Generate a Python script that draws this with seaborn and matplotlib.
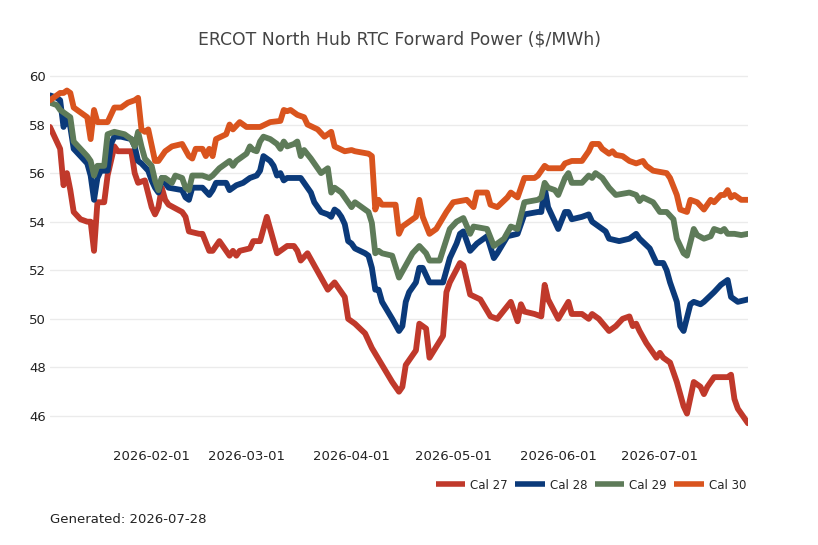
import pandas as pd
import numpy as np
import matplotlib
matplotlib.use("Agg")
import matplotlib.pyplot as plt
import matplotlib.dates as mdates
import seaborn as sns

# ---- data: days since 2026-01-01 and prices ($/MWh) ----
cal27_days = [1, 4, 5, 6, 7, 8, 10, 12, 13, 14, 15, 17, 18, 20, 21, 25, 26, 27, 29, 31, 32, 33, 34, 35, 36,
              40, 41, 42, 45, 46, 48, 49, 51, 52, 54, 55, 56, 57, 60, 61, 63, 65, 66, 68, 71, 73, 74, 75, 77,
              81, 83, 85, 88, 89, 91, 94, 96, 99, 102, 103, 104, 105, 106, 109, 110, 112, 113, 117, 118, 119,
              122, 123, 125, 128, 131, 133, 137, 139, 140, 141, 144, 146, 147, 148, 151, 154, 155, 158, 160,
              161, 163, 166, 168, 170, 172, 173, 174, 175, 177, 180, 181, 182, 184, 186, 188, 189, 191, 193,
              194, 195, 197, 200, 201, 202, 203, 204, 207]
cal27_vals = [57.9, 57.0, 55.5, 56.0, 55.3, 54.4, 54.1, 54.0, 54.0, 52.8, 54.8, 54.8, 55.9, 57.1, 56.9, 56.9,
              56.0, 55.6, 55.7, 54.6, 54.3, 54.6, 55.4, 54.9, 54.7, 54.4, 54.2, 53.6, 53.5, 53.5, 52.8, 52.8,
              53.2, 53.0, 52.6, 52.8, 52.6, 52.8, 52.9, 53.2, 53.2, 54.2, 53.7, 52.7, 53.0, 53.0, 52.8, 52.4,
              52.7, 51.7, 51.2, 51.5, 50.9, 50.0, 49.8, 49.4, 48.8, 48.1, 47.4, 47.2, 47.0, 47.2, 48.1, 48.7,
              49.8, 49.6, 48.4, 49.3, 51.1, 51.5, 52.3, 52.2, 51.0, 50.8, 50.1, 50.0, 50.7, 49.9, 50.6, 50.3,
              50.2, 50.1, 51.4, 50.8, 50.0, 50.7, 50.2, 50.2, 50.0, 50.2, 50.0, 49.5, 49.7, 50.0, 50.1, 49.7,
              49.8, 49.5, 49.0, 48.4, 48.6, 48.4, 48.2, 47.4, 46.4, 46.1, 47.4, 47.2, 46.9, 47.2, 47.6, 47.6,
              47.6, 47.7, 46.7, 46.3, 45.7]

cal28_days = [1, 3, 4, 5, 6, 7, 8, 10, 12, 13, 14, 15, 16, 18, 19, 20, 22, 25, 26, 27, 28, 30, 31, 32, 33,
              34, 35, 36, 40, 41, 42, 43, 46, 48, 49, 50, 53, 54, 56, 58, 60, 62, 63, 64, 66, 67, 68, 69, 70,
              71, 75, 76, 78, 79, 81, 83, 84, 85, 86, 87, 88, 89, 90, 91, 94, 95, 96, 97, 98, 99, 102, 104,
              105, 106, 107, 109, 110, 111, 113, 117, 119, 121, 122, 123, 125, 127, 130, 132, 133, 136, 139,
              141, 145, 146, 147, 148, 151, 153, 154, 155, 158, 160, 161, 165, 166, 169, 172, 174, 175, 178,
              179, 180, 182, 183, 184, 186, 187, 188, 190, 191, 193, 194, 197, 199, 201, 202, 204, 207]
cal28_vals = [59.2, 59.1, 59.0, 57.9, 58.3, 57.9, 57.0, 56.7, 56.4, 55.9, 54.9, 55.8, 56.1, 56.1, 57.2, 57.5,
              57.5, 57.4, 57.1, 56.5, 56.4, 56.1, 55.7, 55.4, 55.2, 55.8, 55.6, 55.4, 55.3, 55.0, 54.9, 55.4,
              55.4, 55.1, 55.3, 55.6, 55.6, 55.3, 55.5, 55.6, 55.8, 55.9, 56.1, 56.7, 56.5, 56.3, 55.9, 56.0,
              55.7, 55.8, 55.8, 55.6, 55.2, 54.8, 54.4, 54.3, 54.2, 54.5, 54.4, 54.2, 53.9, 53.2, 53.1, 52.9,
              52.7, 52.6, 52.1, 51.2, 51.2, 50.7, 50.0, 49.5, 49.7, 50.7, 51.1, 51.5, 52.1, 52.1, 51.5, 51.5,
              52.5, 53.1, 53.5, 53.6, 52.8, 53.1, 53.4, 52.5, 52.7, 53.4, 53.5, 54.3, 54.4, 54.4, 55.4, 54.6,
              53.7, 54.4, 54.4, 54.1, 54.2, 54.3, 54.0, 53.6, 53.3, 53.2, 53.3, 53.5, 53.3, 52.9, 52.6, 52.3,
              52.3, 52.0, 51.5, 50.7, 49.7, 49.5, 50.6, 50.7, 50.6, 50.7, 51.1, 51.4, 51.6, 50.9, 50.7, 50.8]

cal29_days = [1, 3, 4, 6, 7, 8, 10, 12, 13, 14, 15, 17, 18, 20, 23, 25, 26, 27, 28, 29, 31, 32, 33, 34, 35,
              37, 38, 40, 41, 42, 43, 46, 48, 49, 51, 53, 54, 55, 56, 58, 59, 60, 61, 62, 63, 64, 66, 68, 69,
              70, 71, 73, 74, 75, 76, 78, 81, 83, 84, 85, 87, 90, 91, 95, 96, 97, 98, 99, 102, 104, 106, 108,
              110, 112, 113, 116, 119, 121, 123, 125, 126, 130, 132, 135, 137, 139, 141, 145, 146, 147, 148,
              150, 151, 153, 154, 155, 158, 160, 161, 162, 164, 166, 168, 172, 174, 175, 176, 179, 181, 183,
              185, 186, 188, 189, 191, 192, 194, 196, 197, 199, 200, 201, 203, 205, 207]
cal29_vals = [58.9, 58.8, 58.6, 58.4, 58.3, 57.3, 57.0, 56.7, 56.5, 55.9, 56.3, 56.3, 57.6, 57.7, 57.6, 57.4,
              57.1, 57.7, 57.1, 56.6, 56.3, 55.7, 55.3, 55.8, 55.8, 55.6, 55.9, 55.8, 55.4, 55.3, 55.9, 55.9,
              55.8, 55.9, 56.2, 56.4, 56.5, 56.3, 56.5, 56.7, 56.8, 57.1, 56.95, 56.9, 57.3, 57.5, 57.4, 57.2,
              57.0, 57.3, 57.1, 57.2, 57.3, 56.7, 56.95, 56.6, 56.0, 56.2, 55.2, 55.4, 55.2, 54.6, 54.8, 54.4,
              53.95, 52.7, 52.8, 52.7, 52.6, 51.7, 52.2, 52.7, 53.0, 52.7, 52.4, 52.4, 53.7, 54.0, 54.15, 53.5,
              53.8, 53.7, 53.0, 53.3, 53.8, 53.7, 54.8, 54.9, 55.0, 55.6, 55.4, 55.3, 55.1, 55.8, 56.0, 55.6,
              55.6, 55.9, 55.8, 56.0, 55.8, 55.4, 55.1, 55.2, 55.1, 54.85, 55.0, 54.8, 54.4, 54.4, 54.1, 53.3,
              52.7, 52.6, 53.7, 53.45, 53.3, 53.4, 53.7, 53.6, 53.7, 53.5, 53.5, 53.45, 53.5]

cal30_days = [1, 4, 5, 6, 7, 8, 10, 12, 13, 14, 15, 18, 20, 22, 24, 26, 27, 28, 29, 30, 32, 33, 35, 37, 40,
              42, 43, 44, 46, 47, 48, 49, 50, 53, 54, 55, 57, 59, 63, 66, 69, 70, 71, 72, 74, 76, 77, 80, 82,
              84, 85, 88, 90, 91, 95, 96, 97, 98, 99, 103, 104, 105, 109, 110, 111, 113, 115, 118, 120, 124,
              126, 127, 130, 131, 133, 136, 137, 139, 141, 144, 145, 147, 148, 152, 153, 155, 158, 160, 161,
              163, 164, 166, 167, 168, 170, 172, 174, 176, 177, 179, 183, 184, 186, 187, 189, 190, 192, 194,
              196, 197, 199, 200, 201, 202, 203, 205, 207]
cal30_vals = [59.0, 59.3, 59.3, 59.4, 59.3, 58.7, 58.5, 58.3, 57.4, 58.6, 58.1, 58.1, 58.7, 58.7, 58.9, 59.0,
              59.1, 57.8, 57.7, 57.8, 56.5, 56.5, 56.9, 57.1, 57.2, 56.7, 56.6, 57.0, 57.0, 56.7, 57.0, 56.7,
              57.4, 57.6, 58.0, 57.8, 58.1, 57.9, 57.9, 58.1, 58.15, 58.6, 58.55, 58.6, 58.4, 58.3, 58.0, 57.8,
              57.5, 57.7, 57.1, 56.9, 56.95, 56.9, 56.8, 56.7, 54.5, 54.9, 54.7, 54.7, 53.5, 53.8, 54.2, 54.9,
              54.2, 53.5, 53.7, 54.4, 54.8, 54.9, 54.6, 55.2, 55.2, 54.7, 54.6, 55.0, 55.2, 55.0, 55.8, 55.8,
              55.9, 56.3, 56.2, 56.2, 56.4, 56.5, 56.5, 56.9, 57.2, 57.2, 57.0, 56.8, 56.9, 56.75, 56.7, 56.5,
              56.4, 56.5, 56.3, 56.1, 56.0, 55.8, 55.1, 54.5, 54.4, 54.9, 54.8, 54.5, 54.9, 54.8, 55.1, 55.1,
              55.3, 55.0, 55.1, 54.9, 54.9]

series_names = ["Cal 27", "Cal 28", "Cal 29", "Cal 30"]
series_colors = ["#c0392b", "#0b3a7a", "#5e7b59", "#d9541e"]
title_text = "ERCOT North Hub RTC Forward Power ($/MWh)"
footer_text = "Generated: 2026-07-28"
base_date = "2026-01-01"

# ---- build long table ----
frames = []
for name, days, vals in zip(series_names,
                            [cal27_days, cal28_days, cal29_days, cal30_days],
                            [cal27_vals, cal28_vals, cal29_vals, cal30_vals]):
    d = pd.Timestamp(base_date) + pd.to_timedelta(np.array(days), unit="D")
    frames.append(pd.DataFrame({"date": d, "price": vals, "contract": name}))
df = pd.concat(frames, ignore_index=True)

sns.set_theme(style="white")
plt.rcParams["font.family"] = ["DejaVu Sans"]

fig = plt.figure(figsize=(8.18, 5.45), dpi=100)
ax = fig.add_axes([0.0611, 0.2055, 0.8533, 0.6685])

sns.lineplot(data=df, x="date", y="price", hue="contract", hue_order=series_names,
             palette=series_colors, linewidth=4.2, estimator=None, ax=ax, legend=True)

ax.set_ylim(45.3, 60.3)
ax.set_xlim(df["date"].min(), df["date"].max())
ax.set_yticks([46, 48, 50, 52, 54, 56, 58, 60])
ax.xaxis.set_major_locator(mdates.MonthLocator(bymonthday=1))
ax.xaxis.set_major_formatter(mdates.DateFormatter("%Y-%m-%d"))
ax.set_xlabel("")
ax.set_ylabel("")
for s in ax.spines.values():
    s.set_visible(False)
ax.grid(axis="y", color="#ebebeb", linewidth=1)
ax.grid(axis="x", visible=False)
ax.tick_params(axis="x", length=0, pad=12, labelsize=9.5, colors="#222222")
ax.tick_params(axis="y", length=0, pad=3, labelsize=9.5, colors="#222222")

handles, labels = ax.get_legend_handles_labels()
ax.legend_.remove()
leg = fig.legend(handles, labels, loc="center right", bbox_to_anchor=(0.925, 0.110),
                 ncol=4, frameon=False, fontsize=8.5, handlelength=2.5,
                 columnspacing=0.65, handletextpad=0.4)
for h in leg.get_lines():
    h.set_linewidth(4)
    h.set_solid_capstyle("butt")

fig.text(0.488, 0.928, title_text, ha="center", va="center", fontsize=12.4, color="#444444")
fig.text(0.0611, 0.046, footer_text, ha="left", va="center", fontsize=9.5, color="#222222")

fig.savefig("out.png", dpi=100)
